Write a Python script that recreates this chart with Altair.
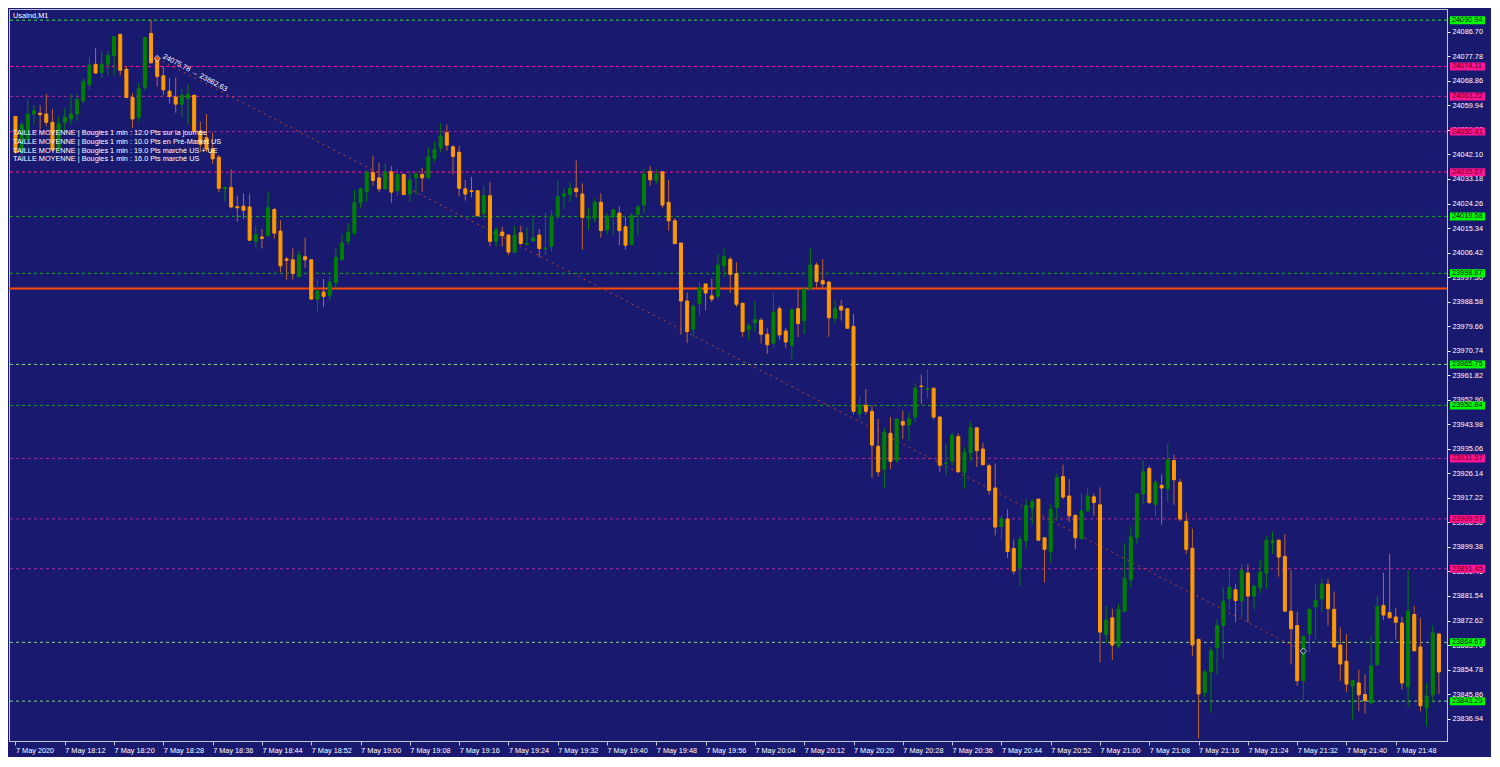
import json
import altair as alt
import pandas as pd

# ---------------- data ----------------
opens = [24055.9, 24042.9, 24047.6, 24056.8, 24057.1, 24056.8, 24053.8, 24044.0, 24053.8, 24055.0,
         24056.8, 24061.6, 24067.5, 24074.9, 24071.9, 24074.9, 24078.1, 24085.8, 24073.1, 24062.8,
         24055.7, 24066.6, 24086.1, 24077.2, 24070.7, 24065.1, 24063.0, 24060.4, 24062.4, 24063.6,
         24050.6, 24048.2, 24044.0, 24041.1, 24029.7, 24030.1, 24023.1, 24023.3, 24023.0, 24010.6,
         24012.1, 24012.6, 24022.1, 24014.2, 24004.1, 24003.8, 23997.6, 24004.9, 24003.8, 23989.5,
         23992.1, 23990.7, 23995.5, 24003.8, 24010.6, 24013.6, 24024.6, 24028.6, 24035.5, 24033.6,
         24029.6, 24035.8, 24028.9, 24034.8, 24027.7, 24033.6, 24034.8, 24033.6, 24040.7, 24044.5,
         24050.0, 24044.9, 24042.9, 24029.6, 24028.9, 24028.9, 24020.6, 24027.1, 24010.6, 24013.9,
         24012.8, 24006.6, 24013.6, 24009.4, 24010.6, 24012.8, 24007.8, 24008.7, 24019.4, 24026.9,
         24027.5, 24029.8, 24027.7, 24018.9, 24018.9, 24024.7, 24014.7, 24019.4, 24020.8, 24015.8,
         24009.4, 24020.3, 24023.7, 24036.0, 24032.7, 24035.8, 24024.7, 24018.0, 24009.9, 23988.8,
         23978.6, 23987.8, 23995.0, 23990.7, 23990.5, 24001.6, 24004.0, 23998.8, 23988.0, 23978.5,
         23980.8, 23981.8, 23976.7, 23973.5, 23986.0, 23977.9, 23972.7, 23986.0, 23981.7, 23993.3,
         24001.9, 23996.2, 23995.7, 23982.5, 23986.9, 23986.0, 23979.6, 23947.8, 23950.9, 23948.7,
         23936.0, 23927.7, 23940.7, 23930.9, 23945.0, 23943.7, 23946.6, 23957.9, 23956.7, 23957.1,
         23946.6, 23929.7, 23930.5, 23939.5, 23926.5, 23933.6, 23942.7, 23935.0, 23928.9, 23920.8,
         23906.8, 23909.5, 23898.8, 23891.7, 23901.6, 23913.5, 23916.8, 23902.7, 23897.7, 23913.7,
         23925.0, 23917.9, 23910.9, 23902.4, 23912.5, 23917.6, 23914.7, 23867.5, 23873.6, 23863.3,
         23876.0, 23887.4, 23902.8, 23918.7, 23927.9, 23914.9, 23921.8, 23920.6, 23930.8, 23922.9,
         23908.7, 23898.9, 23865.7, 23846.4, 23853.9, 23862.7, 23870.8, 23880.5, 23883.8, 23879.8,
         23889.9, 23881.5, 23884.7, 23889.8, 23900.9, 23901.8, 23895.9, 23876.0, 23870.8, 23850.7,
         23867.7, 23877.6, 23880.5, 23885.8, 23876.7, 23863.7, 23857.8, 23848.8, 23849.9, 23845.7,
         23842.6, 23856.6, 23878.1, 23875.5, 23873.9, 23871.7, 23848.5, 23874.8, 23863.0, 23840.8,
         23845.6, 23867.7]
highs = [24056.1, 24054.1, 24062.1, 24060.0, 24060.0, 24064.0, 24058.7, 24055.9, 24058.9, 24064.0,
         24064.0, 24069.9, 24077.8, 24080.8, 24079.6, 24079.6, 24084.9, 24085.8, 24074.3, 24064.4,
         24068.0, 24084.9, 24091.2, 24077.8, 24074.3, 24069.9, 24070.1, 24066.0, 24067.7, 24064.0,
         24054.1, 24056.8, 24050.2, 24041.9, 24030.4, 24036.7, 24027.1, 24028.0, 24027.7, 24016.2,
         24015.0, 24028.6, 24022.7, 24018.2, 24004.9, 24007.9, 24007.1, 24011.8, 24004.0, 23996.6,
         23996.9, 23997.8, 24007.9, 24013.0, 24017.0, 24029.2, 24030.1, 24036.0, 24041.7, 24039.1,
         24038.7, 24037.9, 24036.9, 24035.2, 24036.0, 24036.0, 24037.2, 24044.6, 24046.7, 24053.3,
         24052.9, 24045.5, 24045.2, 24032.8, 24034.0, 24028.9, 24030.8, 24032.0, 24015.8, 24015.8,
         24013.0, 24016.1, 24016.1, 24015.6, 24020.0, 24015.0, 24020.9, 24021.8, 24032.8, 24029.8,
         24032.0, 24039.9, 24031.6, 24022.7, 24026.0, 24028.0, 24020.9, 24022.0, 24023.3, 24019.4,
         24020.9, 24023.9, 24036.9, 24037.9, 24036.7, 24035.8, 24032.8, 24018.9, 24009.9, 23991.9,
         23987.8, 23995.7, 23995.0, 23996.9, 24005.8, 24007.9, 24004.9, 24002.9, 23988.0, 23980.6,
         23988.7, 23982.7, 23978.9, 23991.9, 23986.9, 23978.9, 23986.0, 23993.1, 23993.7, 24007.9,
         24002.8, 24004.0, 23996.1, 23989.1, 23989.1, 23986.2, 23984.1, 23954.0, 23956.8, 23951.0,
         23945.9, 23942.7, 23946.6, 23945.9, 23949.0, 23948.1, 23959.0, 23962.0, 23963.9, 23957.1,
         23947.1, 23936.8, 23940.7, 23940.7, 23935.7, 23944.7, 23942.7, 23937.2, 23929.6, 23929.6,
         23910.9, 23913.0, 23902.1, 23903.6, 23916.8, 23916.8, 23916.8, 23902.7, 23914.9, 23926.1,
         23929.3, 23924.1, 23910.9, 23918.9, 23921.0, 23918.9, 23921.0, 23877.9, 23876.9, 23878.7,
         23900.7, 23906.8, 23918.7, 23930.9, 23928.9, 23923.8, 23925.8, 23936.8, 23932.9, 23924.1,
         23911.9, 23906.0, 23866.1, 23854.7, 23863.0, 23873.2, 23884.7, 23891.4, 23885.8, 23893.0,
         23893.0, 23885.8, 23894.7, 23903.3, 23904.8, 23902.1, 23904.0, 23890.9, 23875.8, 23867.2,
         23876.7, 23885.8, 23887.9, 23887.9, 23883.1, 23870.1, 23867.7, 23850.9, 23854.7, 23853.0,
         23866.9, 23881.7, 23890.0, 23896.9, 23877.2, 23874.0, 23890.9, 23877.9, 23873.6, 23849.9,
         23870.8, 23868.1]
lows = [24042.3, 24041.7, 24045.2, 24052.9, 24051.4, 24052.3, 24042.9, 24042.9, 24050.9, 24052.9,
        24054.1, 24060.6, 24065.4, 24071.5, 24069.9, 24070.7, 24070.7, 24070.9, 24062.8, 24051.7,
        24054.1, 24065.4, 24075.4, 24066.8, 24063.6, 24060.6, 24057.3, 24055.7, 24052.9, 24050.0,
        24042.9, 24042.9, 24038.7, 24028.4, 24024.8, 24022.5, 24017.7, 24018.6, 24010.9, 24007.9,
        24007.9, 24012.1, 24011.5, 23999.3, 23996.6, 23996.6, 23997.6, 24000.8, 23989.5, 23984.6,
        23986.6, 23988.8, 23992.9, 24003.8, 24009.4, 24012.6, 24022.7, 24024.8, 24030.8, 24028.4,
        24029.6, 24024.5, 24026.9, 24027.5, 24024.8, 24027.5, 24028.6, 24033.4, 24039.5, 24042.9,
        24043.5, 24034.8, 24026.9, 24025.3, 24026.5, 24019.8, 24018.2, 24008.7, 24008.7, 24008.7,
        24005.5, 24006.4, 24009.3, 24009.1, 24010.3, 24004.6, 24005.5, 24006.7, 24018.6, 24022.1,
        24024.8, 24026.5, 24007.5, 24014.7, 24017.4, 24011.8, 24013.0, 24012.6, 24009.1, 24007.5,
        24009.1, 24012.6, 24020.6, 24030.8, 24031.5, 24022.7, 24014.4, 24009.4, 23976.5, 23973.5,
        23975.9, 23983.6, 23985.5, 23988.4, 23989.5, 23997.6, 23991.7, 23986.6, 23975.8, 23974.7,
        23977.5, 23973.4, 23969.6, 23971.8, 23974.7, 23971.8, 23967.6, 23975.7, 23976.7, 23993.1,
        23993.7, 23993.3, 23975.8, 23980.6, 23981.7, 23978.6, 23947.5, 23945.7, 23947.5, 23924.4,
        23925.0, 23920.8, 23927.7, 23930.0, 23938.6, 23938.0, 23944.7, 23951.4, 23953.4, 23945.7,
        23926.7, 23925.5, 23928.9, 23926.7, 23920.6, 23930.5, 23928.5, 23928.9, 23918.4, 23903.6,
        23901.8, 23895.3, 23889.4, 23885.3, 23898.5, 23907.5, 23901.6, 23886.4, 23893.6, 23908.9,
        23916.7, 23908.4, 23898.5, 23902.1, 23912.3, 23910.7, 23857.4, 23864.5, 23858.2, 23862.7,
        23876.0, 23884.7, 23900.4, 23914.9, 23914.9, 23910.4, 23907.5, 23915.8, 23914.7, 23908.7,
        23896.9, 23859.8, 23829.8, 23844.7, 23839.0, 23853.0, 23858.6, 23876.4, 23872.0, 23873.6,
        23872.0, 23876.7, 23882.6, 23884.1, 23896.9, 23888.6, 23875.8, 23856.6, 23848.8, 23843.8,
        23861.0, 23865.7, 23875.8, 23870.8, 23862.7, 23850.7, 23846.7, 23836.7, 23839.6, 23838.8,
        23842.6, 23855.9, 23872.8, 23873.6, 23865.7, 23847.6, 23841.4, 23861.3, 23839.6, 23834.1,
        23842.8, 23845.9]
closes = [24042.9, 24052.9, 24056.8, 24058.0, 24056.6, 24053.8, 24044.0, 24053.3, 24055.7, 24056.8,
          24062.1, 24068.7, 24074.6, 24071.7, 24074.9, 24078.1, 24084.9, 24072.7, 24062.8, 24055.0,
          24066.0, 24084.6, 24075.4, 24070.4, 24065.6, 24063.2, 24060.4, 24063.6, 24064.0, 24050.6,
          24045.8, 24044.0, 24040.5, 24029.8, 24030.1, 24023.0, 24022.7, 24021.8, 24010.9, 24013.0,
          24011.6, 24022.7, 24013.5, 24001.6, 24003.6, 23998.8, 24005.5, 24003.8, 23989.5, 23992.5,
          23990.5, 23995.7, 24004.7, 24009.9, 24013.9, 24024.6, 24029.6, 24035.8, 24032.6, 24029.6,
          24035.8, 24028.4, 24034.8, 24027.5, 24032.8, 24035.0, 24033.6, 24041.2, 24043.8, 24048.8,
          24045.5, 24041.4, 24029.8, 24027.7, 24028.6, 24019.8, 24027.1, 24010.5, 24014.7, 24012.6,
          24006.6, 24012.8, 24009.7, 24009.7, 24011.8, 24007.9, 24008.0, 24019.8, 24026.7, 24027.7,
          24029.8, 24028.6, 24019.2, 24019.6, 24024.7, 24014.4, 24019.6, 24022.0, 24014.4, 24009.1,
          24019.9, 24023.0, 24035.0, 24032.9, 24035.0, 24023.7, 24018.0, 24009.7, 23988.8, 23977.7,
          23986.9, 23993.7, 23991.7, 23989.5, 24001.9, 24004.9, 23998.5, 23987.6, 23977.7, 23979.8,
          23982.1, 23976.7, 23972.9, 23984.8, 23976.5, 23973.9, 23985.7, 23980.6, 23993.1, 24001.9,
          23995.9, 23995.0, 23982.7, 23986.0, 23985.5, 23978.9, 23948.7, 23950.9, 23948.7, 23936.4,
          23926.7, 23941.0, 23930.5, 23945.9, 23943.7, 23946.0, 23957.1, 23957.7, 23956.9, 23946.6,
          23929.1, 23929.9, 23940.0, 23926.7, 23933.8, 23942.7, 23934.4, 23929.3, 23919.9, 23906.6,
          23909.7, 23897.7, 23890.6, 23902.1, 23914.4, 23915.8, 23901.8, 23898.5, 23913.0, 23924.6,
          23917.5, 23910.7, 23902.7, 23912.5, 23917.9, 23915.5, 23868.4, 23872.8, 23863.7, 23876.7,
          23887.9, 23903.0, 23918.7, 23926.7, 23915.5, 23922.9, 23920.8, 23931.1, 23923.8, 23909.5,
          23898.5, 23863.7, 23845.9, 23853.9, 23861.6, 23870.8, 23879.6, 23884.7, 23879.9, 23890.9,
          23881.5, 23885.0, 23890.2, 23901.8, 23901.6, 23895.7, 23876.0, 23869.6, 23850.7, 23866.9,
          23876.7, 23879.9, 23885.8, 23876.9, 23863.0, 23856.8, 23849.5, 23850.7, 23845.6, 23843.5,
          23856.1, 23877.8, 23874.6, 23873.6, 23872.0, 23849.9, 23876.0, 23861.6, 23841.6, 23845.0,
          23868.1, 23853.9]

time_labels = ["7 May 2020", "7 May 18:12", "7 May 18:20", "7 May 18:28", "7 May 18:36",
               "7 May 18:44", "7 May 18:52", "7 May 19:00", "7 May 19:08", "7 May 19:16",
               "7 May 19:24", "7 May 19:32", "7 May 19:40", "7 May 19:48", "7 May 19:56",
               "7 May 20:04", "7 May 20:12", "7 May 20:20", "7 May 20:28", "7 May 20:36",
               "7 May 20:44", "7 May 20:52", "7 May 21:00", "7 May 21:08", "7 May 21:16",
               "7 May 21:24", "7 May 21:32", "7 May 21:40", "7 May 21:48"]
bars_per_label = 8

price_ticks = [24086.70, 24077.78, 24068.86, 24059.94, 24051.02, 24042.10, 24033.18, 24024.26,
               24015.34, 24006.42, 23997.50, 23988.58, 23979.66, 23970.74, 23961.82, 23952.90,
               23943.98, 23935.06, 23926.14, 23917.22, 23908.30, 23899.38, 23890.46, 23881.54,
               23872.62, 23863.70, 23854.78, 23845.86, 23836.94]
price_range = [23828.8, 24095.0]

level_prices = [24090.94, 24074.11, 24063.22, 24050.41, 24035.67, 24019.58, 23998.87,
                23965.75, 23950.84, 23931.57, 23909.57, 23891.45, 23864.67, 23843.29]
level_kind = ["buy", "sell", "sell", "sell", "sell", "buy", "buy",
              "buy", "buy", "sell", "sell", "sell", "buy", "buy"]
pivot_price = 23993.4

trend_bars = [23, 209]
trend_prices = [24077.0, 23861.5]
trend_label = "24075.78 \u2192 23862.63"

symbol_label = "UsaInd,M1"
info_lines = [
    "TAILLE MOYENNE | Bougies 1 min : 12.0 Pts sur la journée",
    "TAILLE MOYENNE | Bougies 1 min : 10.0 Pts en Pré-Market US",
    "TAILLE MOYENNE | Bougies 1 min : 19.0 Pts marché US + UE",
    "TAILLE MOYENNE | Bougies 1 min : 16.0 Pts marché US",
]

# ---------------- styles ----------------
W, H = 1438, 732
BG = "#191970"
FRAME = "#C4C4D4"
FONT = "Liberation Sans"
FS = 7.3
BULL, BEAR = "#008000", "#FF9900"
BULL_WICK, BEAR_WICK = "#008000", "#C0652A"
line_style = {
    24090.94: "#30E830", 24074.11: "#FF1493", 24063.22: "#A8309A", 24050.41: "#A8309A",
    24035.67: "#FF1493", 24019.58: "#20A820", 23998.87: "#20A820", 23965.75: "#80D880",
    23950.84: "#20A020", 23931.57: "#A8309A", 23909.57: "#A8309A", 23891.45: "#A8309A",
    23864.67: "#80D880", 23843.29: "#80D880",
}
tag_bg = {"buy": "#00FF00", "sell": "#FF1493"}
tag_fg = {"buy": "#000000", "sell": "#4B0028"}

# ---------------- tables ----------------
n = len(opens)
cd = pd.DataFrame({"bar": list(range(n)), "open": opens, "high": highs, "low": lows, "close": closes})
up = cd["close"] >= cd["open"]
cd["body_color"] = [BULL if u else BEAR for u in up]
cd["wick_color"] = [BULL_WICK if u else BEAR_WICK for u in up]

lv = pd.DataFrame({"price": level_prices, "kind": level_kind})
lv["line_color"] = [line_style[p] for p in level_prices]
lv["tag_color"] = [tag_bg[k] for k in level_kind]
lv["tag_text"] = [tag_fg[k] for k in level_kind]

tr = pd.DataFrame({"x0": [trend_bars[0]], "x1": [trend_bars[1]],
                   "y0": [trend_prices[0]], "y1": [trend_prices[1]], "t": [trend_label]})
tr_pts = pd.DataFrame({"bar": trend_bars, "price": trend_prices, "fill": ["#E03A10", BG]})

# ---------------- scales / axes ----------------
xscale = alt.Scale(domain=[-0.24, n - 0.5], nice=False, zero=False)
yscale = alt.Scale(domain=price_range, nice=False, zero=False)
tick_positions = [bars_per_label * k for k in range(len(time_labels))]
label_expr = json.dumps(time_labels) + "[round(datum.value / %d)]" % bars_per_label

xaxis = alt.Axis(values=tick_positions, labelExpr=label_expr, orient="bottom", title=None,
                 grid=False, tickSize=4, tickColor=FRAME, domainColor=FRAME,
                 labelColor="#FFFFFF", labelFont=FONT, labelFontSize=FS, labelAlign="left",
                 labelBaseline="top", labelPadding=1, labelOverlap=False, labelFlush=False)
yaxis = alt.Axis(values=price_ticks, format=".2f", orient="right", title=None, grid=False,
                 tickSize=3, tickColor="#FFFFFF", domainColor=FRAME, labelColor="#FFFFFF",
                 labelFont=FONT, labelFontSize=FS, labelPadding=2, labelOverlap=False,
                 labelFlush=False, labelBaseline="middle")


def X(f):
    return alt.X(f"{f}:Q", scale=xscale, axis=xaxis)


def Y(f):
    return alt.Y(f"{f}:Q", scale=yscale, axis=yaxis)


levels = alt.Chart(lv).mark_rule(strokeDash=[3, 3], strokeWidth=1).encode(
    y=Y("price"), color=alt.Color("line_color:N", scale=None))
pivot = alt.Chart(pd.DataFrame({"price": [pivot_price]})).mark_rule(
    color="#FF4A00", strokeWidth=2).encode(y=Y("price"))
trend = alt.Chart(tr).mark_rule(strokeDash=[2, 4], color="#B8442C", strokeWidth=1).encode(
    x=X("x0"), x2="x1:Q", y=Y("y0"), y2="y1:Q")
wicks = alt.Chart(cd).mark_rule(strokeWidth=1).encode(
    x=X("bar"), y=Y("low"), y2="high:Q", color=alt.Color("wick_color:N", scale=None))
bodies = alt.Chart(cd).mark_bar(size=3, strokeWidth=1).encode(
    x=X("bar"), y=Y("open"), y2="close:Q",
    fill=alt.Fill("body_color:N", scale=None), stroke=alt.Stroke("body_color:N", scale=None))
diamonds = alt.Chart(tr_pts).mark_point(shape="diamond", size=40, filled=True, stroke="#FFFFFF",
                                        strokeWidth=1).encode(
    x=X("bar"), y=Y("price"), fill=alt.Fill("fill:N", scale=None))
trend_text = alt.Chart(tr).mark_text(align="left", baseline="bottom", angle=28, dx=4, dy=-1,
                                     color="#FFFFFF", font=FONT, fontSize=FS).encode(
    x=X("x0"), y=Y("y0"), text="t:N")
tags = alt.Chart(lv).mark_rule(strokeWidth=8, strokeCap="butt").encode(
    x=alt.value(W + 3), x2=alt.value(W + 38), y=Y("price"),
    color=alt.Color("tag_color:N", scale=None))
tag_text = alt.Chart(lv).mark_text(align="left", baseline="middle", font=FONT, fontSize=FS).encode(
    x=alt.value(W + 5), y=Y("price"), text=alt.Text("price:Q", format=".2f"),
    color=alt.Color("tag_text:N", scale=None))

texts = [alt.Chart(pd.DataFrame({"t": [symbol_label]})).mark_text(
    align="left", baseline="middle", color="#FFFFFF", font=FONT, fontSize=FS).encode(
    x=alt.value(4), y=alt.value(7), text="t:N")]
for k, line in enumerate(info_lines):
    texts.append(alt.Chart(pd.DataFrame({"t": [line]})).mark_text(
        align="left", baseline="middle", color="#FFFFFF", font=FONT, fontSize=FS).encode(
        x=alt.value(4), y=alt.value(124 + 8.8 * k), text="t:N"))

chart = alt.layer(levels, pivot, trend, wicks, bodies, diamonds, trend_text, tags, tag_text,
                  *texts).properties(
    width=W, height=H, background=BG,
    padding={"left": 1, "top": 1, "right": 44, "bottom": 16},
    autosize=alt.AutoSizeParams(type="none"),
).configure_view(stroke=FRAME, strokeWidth=1)

chart.save("out.html", embed_options={"renderer": "svg", "actions": False})
